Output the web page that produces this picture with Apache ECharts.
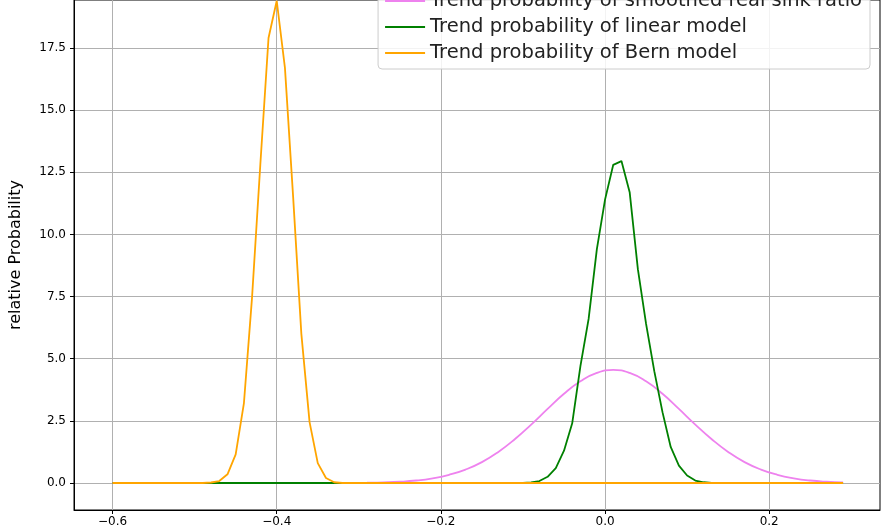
<!DOCTYPE html>
<html><head><meta charset="utf-8">
<script src="https://cdn.jsdelivr.net/npm/echarts@6/dist/echarts.min.js"></script>
<style>html,body{margin:0;padding:0;background:#fff}#c{width:890px;height:530px}</style>
</head><body><div id="c"></div>
<script>
const seriesNames = ["Trend probability of smoothed real sink ratio","Trend probability of linear model","Trend probability of Bern model"];
const xTicks = [-0.6,-0.4,-0.2,0.0,0.2];
const yTicks = [0.0,2.5,5.0,7.5,10.0,12.5,15.0,17.5];
// smoothed real (violet), x = -0.33 .. 0.29 step 0.02
const violetX = [-0.6,-0.33,-0.31,-0.29,-0.27,-0.25,-0.23,-0.21,-0.19,-0.17,-0.15,-0.13,-0.11,-0.09,-0.07,-0.05,-0.03,-0.01,0.01,0.03,0.05,0.07,0.09,0.11,0.13,0.15,0.17,0.19,0.21,0.23,0.25,0.27,0.29];
const violetY = [0.0,0.003,0.006,0.012,0.025,0.05,0.10,0.19,0.33,0.54,0.84,1.25,1.76,2.35,2.98,3.59,4.09,4.43,4.55,4.43,4.09,3.59,2.98,2.35,1.76,1.25,0.84,0.54,0.33,0.19,0.10,0.05,0.025];
// linear model (green)
const greenX = [-0.6,-0.10,-0.09,-0.08,-0.07,-0.06,-0.05,-0.04,-0.03,-0.02,-0.01,0.00,0.01,0.02,0.03,0.04,0.05,0.06,0.07,0.08,0.09,0.10,0.11,0.12,0.13,0.29];
const greenY = [0.0,0.0,0.02,0.08,0.25,0.6,1.3,2.4,4.7,6.6,9.4,11.4,12.8,12.95,11.7,8.6,6.4,4.5,2.85,1.45,0.7,0.3,0.1,0.03,0.0,0.0];
// Bern model (orange)
const orangeX = [-0.6,-0.49,-0.48,-0.47,-0.46,-0.45,-0.44,-0.43,-0.42,-0.41,-0.40,-0.39,-0.38,-0.37,-0.36,-0.35,-0.34,-0.33,-0.32,0.29];
const orangeY = [0.0,0.0,0.02,0.08,0.35,1.15,3.2,7.5,12.8,17.9,19.4,16.7,11.5,6.0,2.45,0.8,0.2,0.03,0.0,0.0];
const zip = (a,b)=>a.map((v,i)=>[v,b[i]]);
const fmt = v => (v<0?'\u2212':'')+Math.abs(v).toFixed(1);
const ch = echarts.init(document.getElementById('c'));
const f = 'DejaVu Sans';
ch.setOption({
  animation:false,
  textStyle:{fontFamily:f},
  grid:{left:72,right:10,top:0,bottom:20,show:true,borderColor:'#000',borderWidth:1},
  legend:{orient:'vertical',right:20,top:-15,itemWidth:40,itemHeight:2,itemGap:6,
    backgroundColor:'rgba(255,255,255,0.85)',borderColor:'#ccc',borderWidth:1,borderRadius:4,padding:[6,8,6,7],
    textStyle:{fontSize:19.5,color:'#222',fontFamily:f},
    icon:'rect',data:seriesNames},
  xAxis:{type:'value',min:-0.647,max:0.335,
    axisLine:{show:true,onZero:false,lineStyle:{color:'#000'}},
    axisTick:{show:true,customValues:xTicks,length:4,lineStyle:{color:'#000'}},
    axisLabel:{customValues:xTicks,formatter:fmt,color:'#000',fontSize:12,margin:6},
    splitLine:{show:true,lineStyle:{color:'#b0b0b0'}}},
  yAxis:{type:'value',min:-1.086,max:19.43,
    name:'relative Probability',nameLocation:'middle',nameGap:50,nameTextStyle:{fontSize:16,color:'#000'},
    axisLine:{show:true,onZero:false,lineStyle:{color:'#000'}},
    axisTick:{show:true,customValues:yTicks,length:4,lineStyle:{color:'#000'}},
    axisLabel:{customValues:yTicks,formatter:v=>v.toFixed(1),color:'#000',fontSize:12,margin:8},
    splitLine:{show:true,lineStyle:{color:'#b0b0b0'}}},
  series:[
    {name:seriesNames[0],type:'line',data:zip(violetX,violetY),symbol:'none',smooth:true,lineStyle:{color:'#ee82ee',width:1.8},itemStyle:{color:'#ee82ee'}},
    {name:seriesNames[1],type:'line',data:zip(greenX,greenY),symbol:'none',lineStyle:{color:'#008000',width:1.8},itemStyle:{color:'#008000'}},
    {name:seriesNames[2],type:'line',data:zip(orangeX,orangeY),symbol:'none',lineStyle:{color:'#ffa500',width:1.8},itemStyle:{color:'#ffa500'}}
  ]
});
</script></body></html>
